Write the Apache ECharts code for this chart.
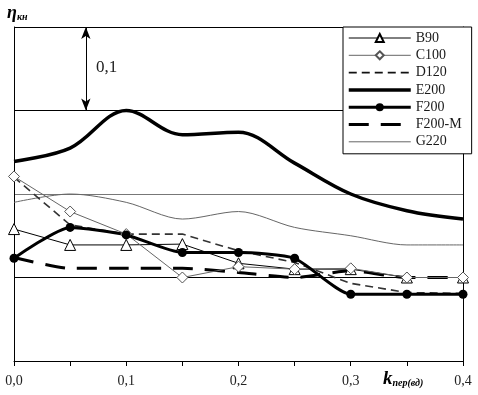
<!DOCTYPE html>
<html><head><meta charset="utf-8">
<script src="https://cdn.jsdelivr.net/npm/echarts@6/dist/echarts.min.js"></script>
<style>html,body{margin:0;padding:0;background:#fff}#c{width:478px;height:395px}</style>
</head><body><div id="c"></div>
<script>
const xValues = [0, 0.05, 0.1, 0.15, 0.2, 0.25, 0.3, 0.35, 0.4];
const xTickLabels = ['0,0', '0,1', '0,2', '0,3', '0,4'];
const B90   = [0.658, 0.639, 0.639, 0.640, 0.617, 0.610, 0.610, 0.600, 0.600];
const C100  = [0.721, 0.679, 0.652, 0.600, 0.613, 0.610, 0.611, 0.600, 0.600];
const D120  = [0.720, 0.663, 0.652, 0.652, 0.632, 0.618, 0.593, 0.582, 0.581];
const E200  = [0.739, 0.755, 0.800, 0.771, 0.774, 0.737, 0.700, 0.680, 0.670];
const F200  = [0.623, 0.660, 0.651, 0.630, 0.630, 0.623, 0.580, 0.580, 0.580];
const F200M = [0.624, 0.611, 0.611, 0.611, 0.606, 0.600, 0.608, 0.600, 0.600];
const G220  = [0.690, 0.700, 0.690, 0.670, 0.679, 0.660, 0.650, 0.639, 0.639];
const arrowX = 0.064;
const arrowSpan = [0.8, 0.9];
const arrowLabel = '0,1';

const pairs = v => xValues.map((x, i) => [x, v[i]]);
const serif = 'Liberation Serif';
const noSym = {color: 'rgba(0,0,0,0)', borderWidth: 0, opacity: 0};
const chart = echarts.init(document.getElementById('c'), null, {renderer: 'canvas'});
chart.setOption({
  animation: false,
  backgroundColor: '#fff',
  grid: {left: 14, right: 15, top: 27, bottom: 34},
  xAxis: {
    type: 'value', min: 0, max: 0.4, interval: 0.05,
    axisLine: {lineStyle: {color: '#000', width: 1}},
    axisTick: {show: true, inside: false, length: 5, lineStyle: {color: '#000'}},
    splitLine: {show: false},
    axisLabel: {
      margin: 13, color: '#222', fontFamily: serif, fontSize: 14,
      formatter: v => { const k = Math.round(v * 20); return k % 2 === 0 ? xTickLabels[k / 2] : ''; }
    }
  },
  yAxis: [{
    type: 'value', min: 0.5, max: 0.9, interval: 0.1,
    axisLine: {show: true, lineStyle: {color: '#000'}},
    axisTick: {show: false}, axisLabel: {show: false},
    splitLine: {show: true, lineStyle: {color: ['#000', '#000', '#777', '#000', '#000'], width: 1}}
  }, {
    type: 'value', min: 0.5, max: 0.9, interval: 0.1, position: 'right',
    axisLine: {show: true, lineStyle: {color: '#000'}},
    axisTick: {show: false}, axisLabel: {show: false}, splitLine: {show: false}
  }],
  legend: {
    orient: 'vertical', left: 343, top: 27,
    backgroundColor: '#fff', borderColor: '#000', borderWidth: 1,
    padding: [4, 10, 5, 4], itemWidth: 62, itemHeight: 10, itemGap: 3.3,
    textStyle: {fontFamily: serif, fontSize: 14, lineHeight: 14, color: '#1a1a1a'},
    data: [
      {name: 'B90', lineStyle: {width: 1, color: '#000'}},
      {name: 'C100', lineStyle: {width: 1}},
      {name: 'D120', itemStyle: noSym, lineStyle: {width: 1.6, color: '#111'}},
      {name: 'E200', itemStyle: noSym, lineStyle: {width: 3.5}},
      {name: 'F200', lineStyle: {width: 3}},
      {name: 'F200-M', itemStyle: noSym, lineStyle: {width: 3}},
      {name: 'G220', itemStyle: noSym, lineStyle: {width: 1}}
    ]
  },
  series: [
    {name: 'G220', type: 'line', data: pairs(G220), smooth: 0.3, symbol: 'none',
     lineStyle: {color: '#666', width: 1}, itemStyle: {color: '#666'},
     markLine: {silent: true, symbol: ['arrow', 'arrow'], symbolSize: [7, 12],
       label: {show: false}, lineStyle: {color: '#000', width: 1, type: 'solid'},
       data: [[{coord: [arrowX, arrowSpan[0]]}, {coord: [arrowX, arrowSpan[1]]}]]}},
    {name: 'E200', type: 'line', data: pairs(E200), smooth: 0.35, symbol: 'none',
     lineStyle: {color: '#000', width: 3.5}, itemStyle: {color: '#000'}},
    {name: 'D120', type: 'line', data: pairs(D120), symbol: 'none',
     lineStyle: {color: '#333', width: 1.6, type: [8, 5]}, itemStyle: {color: '#333'}},
    {name: 'F200-M', type: 'line', data: pairs(F200M), smooth: 0.2, symbol: 'none',
     lineStyle: {color: '#000', width: 3, type: [20, 12]}, itemStyle: {color: '#000'}},
    {name: 'B90', type: 'line', data: pairs(B90), symbol: 'triangle', symbolSize: 11,
     lineStyle: {color: '#000', width: 1}, itemStyle: {color: '#fff', borderColor: '#000', borderWidth: 1}},
    {name: 'C100', type: 'line', data: pairs(C100), symbol: 'diamond', symbolSize: 11,
     lineStyle: {color: '#666', width: 1}, itemStyle: {color: '#fff', borderColor: '#555', borderWidth: 1}},
    {name: 'F200', type: 'line', data: pairs(F200), smooth: 0.2, symbol: 'circle', symbolSize: 9,
     lineStyle: {color: '#000', width: 3}, itemStyle: {color: '#000'}}
  ],
  graphic: [
    {type: 'text', left: 96, top: 59, style: {text: arrowLabel, font: '17px "Liberation Serif"', fill: '#222'}},
    {type: 'text', left: 7, top: 4, style: {
      text: '{a|η}{b|кн}', rich: {
        a: {fontFamily: serif, fontSize: 18, fontWeight: 'bold', fontStyle: 'italic', color: '#000'},
        b: {fontFamily: serif, fontSize: 10, fontWeight: 'bold', fontStyle: 'italic', color: '#000', padding: [8, 0, 0, 0]}
      }}},
    {type: 'text', left: 383, top: 370, style: {
      text: '{a|k}{b|пер(вд)}', rich: {
        a: {fontFamily: serif, fontSize: 19, fontWeight: 'bold', fontStyle: 'italic', color: '#000'},
        b: {fontFamily: serif, fontSize: 10, fontWeight: 'bold', fontStyle: 'italic', color: '#000', padding: [8, 0, 0, 0]}
      }}}
  ]
});
</script>
</body></html>
